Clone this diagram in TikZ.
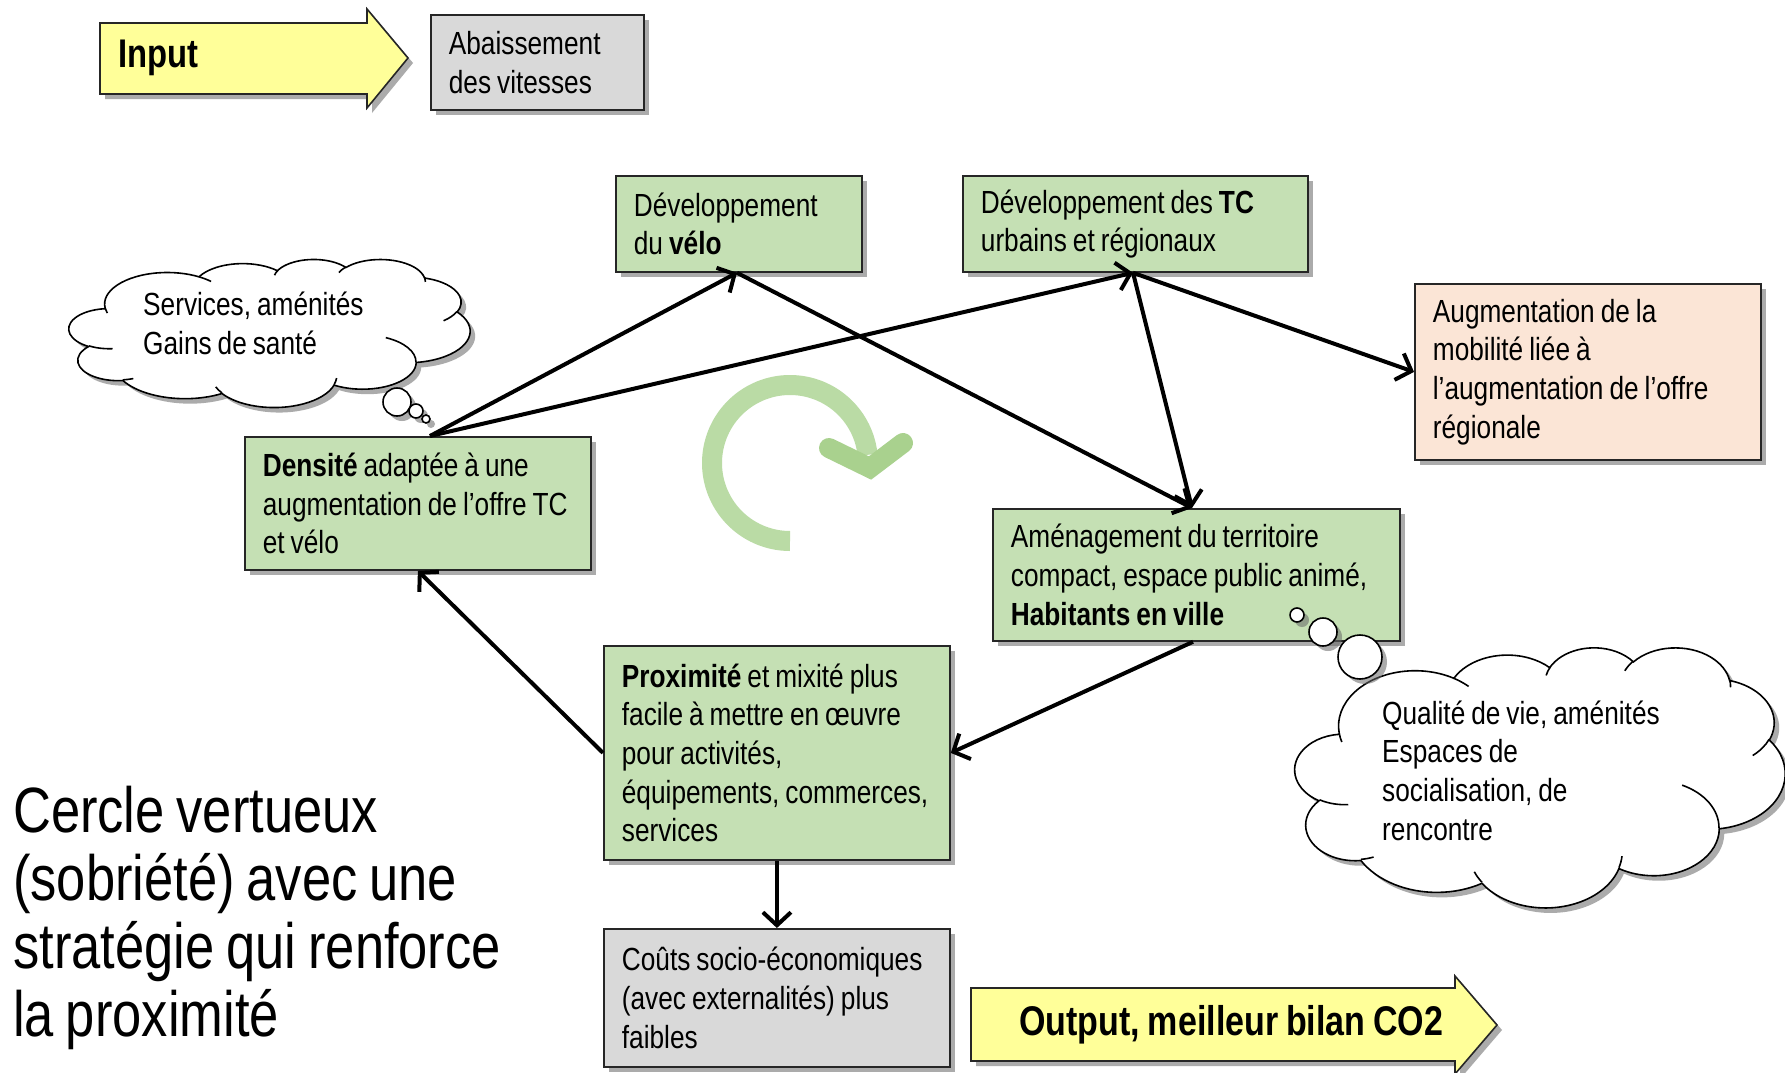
\documentclass[tikz,border=0pt]{standalone}
\usepackage{fontspec}
\setmainfont{Liberation Sans}[FakeStretch=0.82, WordSpace=0.82]
\usetikzlibrary{shadows,arrows.meta,calc}
\definecolor{boxgreen}{HTML}{C5E0B4}
\definecolor{boxpeach}{HTML}{FBE5D6}
\definecolor{boxgray}{HTML}{D9D9D9}
\definecolor{arrowyellow}{HTML}{FFFF99}
\definecolor{cyclegreen}{HTML}{BADBA5}
\definecolor{cycletip}{HTML}{A9D18E}
\newcommand\lne[1]{\mbox{#1}}
% PowerPoint-like cloud outline in a 432 x 432 frame
\newcommand\pptcloud{(39.00,143.70)
 arc[start angle=-187.746,end angle=-59.63,x radius=67.53,y radius=91.90]
 arc[start angle=-152.03,end angle=-45.46,x radius=53.33,y radius=72.67]
 arc[start angle=-153.50,end angle=-37.32,x radius=43.65,y radius=59.45]
 arc[start angle=-139.71,end angle=-10.21,x radius=48.57,y radius=65.95]
 arc[start angle=-74.77,end angle=23.21,x radius=53.33,y radius=72.73]
 arc[start angle=-37.53,end angle=81.86,x radius=67.75,y radius=92.20]
 arc[start angle=0.46,end angle=121.98,x radius=57.85,y radius=78.67]
 arc[start angle=16.84,end angle=146.22,x radius=67.52,y radius=92.15]
 arc[start angle=58.99,end angle=150.19,x radius=77.20,y radius=105.43]
 arc[start angle=83.31,end angle=223.11,x radius=43.60,y radius=59.18]
 arc[start angle=120.36,end angle=264.11,x radius=43.45,y radius=59.45]
 -- cycle}
\newcommand\pptcloudinner{
 (46.93,261.77) arc[start angle=85.54,end angle=120.36,x radius=43.45,y radius=59.45]
 (69.28,348.99) arc[start angle=68.24,end angle=83.31,x radius=43.60,y radius=59.18]
 (164.78,390.90) arc[start angle=146.22,end angle=158.48,x radius=67.52,y radius=92.15]
 (288.27,347.51) arc[start angle=4.735,end angle=16.84,x radius=67.52,y radius=92.15]
 (341.29,229.54) arc[start angle=-64.02,end angle=0.46,x radius=57.85,y radius=78.67]
 (417.98,153.54) arc[start angle=23.21,end angle=49.64,x radius=53.33,y radius=72.73]
 (383.24,54.26) arc[start angle=-10.21,end angle=0.82,x radius=48.57,y radius=65.95]
 (290.78,39.52) arc[start angle=-156.30,end angle=-139.71,x radius=48.57,y radius=65.95]
 (221.41,47.20) arc[start angle=-167.72,end angle=-153.50,x radius=43.65,y radius=59.45]
 (140.05,52.02) arc[start angle=-59.63,end angle=-45.75,x radius=67.53,y radius=91.90]
 (41.27,157.89) arc[start angle=163.19,end angle=172.25,x radius=67.53,y radius=91.90]}
\tikzset{
  shad/.style={drop shadow={shadow xshift=5pt,shadow yshift=-5pt,fill=black!60,opacity=0.55}},
  basebox/.style={draw=black!85, line width=1.8pt, anchor=north west, inner xsep=18pt, inner ysep=0pt,
     align=flush left, font=\fontsize{32}{38.6}\selectfont, shad},
  gbox/.style={basebox, fill=boxgreen},
  pbox/.style={basebox, fill=boxpeach},
  greybox/.style={basebox, fill=boxgray},
  cloudline/.style={draw=black, line width=1.6pt, fill=white},
  cloudshadow/.style={fill=black!60, opacity=0.55},
  inarc/.style={draw=black, line width=1.6pt},
  bubble/.style={circle, draw=black, line width=1.6pt, fill=white, inner sep=0pt, shad},
  conn/.style={line width=4pt, -{Straight Barb[length=13pt,width=28pt]}},
  bigarrow/.style={draw=black!85, line width=1.6pt, fill=arrowyellow, line join=miter, shad},
  cloudtext/.style={anchor=base west, align=left, inner sep=0pt, font=\fontsize{32}{38.6}\selectfont}
}
\begin{document}
\begin{tikzpicture}[x=1pt,y=-1pt]
\useasboundingbox (0,0) rectangle (1785,1073);
\fill[white] (0,0) rectangle (1785,1073);

% Input arrow
\draw[bigarrow] (100,23) -- (367,23) -- (367,9) -- (408,58) -- (367,108) -- (367,94) -- (100,94) -- cycle;
\node[anchor=west, inner sep=0pt, font=\fontsize{40}{44}\selectfont\bfseries] (input) at (118,58) {Input};

% Output arrow
\draw[bigarrow] (971,988) -- (1455,988) -- (1455,976) -- (1497,1025) -- (1455,1074) -- (1455,1061) -- (971,1061) -- cycle;
\node[anchor=west, inner sep=0pt, font=\fontsize{41.5}{45}\selectfont\bfseries] (output) at (1019,1025) {Output, meilleur bilan CO2};

% Abaissement
\node[greybox, minimum width=213pt, minimum height=95pt, text width=177pt] (abais) at (430,14)
  {\lne{Abaissement}\\\lne{des vitesses}};

% cycle arrow
\draw[cyclegreen, line width=20pt] plot[domain=270:6, samples=80, smooth] ({790+78*cos(\x)},{463-78*sin(\x)});
\draw[cycletip, line width=20pt, line cap=round, line join=miter] (829,448) -- (870,468) -- (903,443);

% cloud 1
\begin{scope}[shift={(74,264)}, xscale=0.92824, yscale=0.34259]
  \fill[cloudshadow] \pptcloud;
\end{scope}
\begin{scope}[shift={(69,259)}, xscale=0.92824, yscale=0.34259]
  \path[cloudline] \pptcloud;
  \path[inarc] \pptcloudinner;
\end{scope}
\node[bubble, minimum size=28pt] (bA1) at (397,402) {};
\node[bubble, minimum size=14pt] (bA2) at (416,411) {};
\node[bubble, minimum size=8pt] (bA3) at (426,419) {};
\node[cloudtext] (cloudAtxt) at (143,354) {Services, aménités\\Gains de santé};

% boxes
\node[gbox, minimum width=246pt, minimum height=96pt, text width=210pt] (velo) at (615,175)
  {\lne{Développement}\\\lne{du \textbf{vélo}}};
\node[gbox, minimum width=345pt, minimum height=96pt, text width=309pt] (tc) at (962,175)
  {\lne{Développement des \textbf{TC}}\\\lne{urbains et régionaux}};
\node[pbox, minimum width=346pt, minimum height=176pt, text width=310pt] (aug) at (1414,283)
  {\lne{Augmentation de la}\\\lne{mobilité liée à}\\\lne{l’augmentation de l’offre}\\\lne{régionale}};
\node[gbox, minimum width=346pt, minimum height=133pt, text width=310pt] (dens) at (244,436)
  {\lne{\textbf{Densité} adaptée à une}\\\lne{augmentation de l’offre TC}\\\lne{et vélo}};
\node[gbox, minimum width=407pt, minimum height=132pt, text width=371pt] (amen) at (992,508)
  {\lne{Aménagement du territoire}\\\lne{compact, espace public animé,}\\\lne{\textbf{Habitants en ville}}};
\node[gbox, minimum width=346pt, minimum height=214pt, text width=310pt] (prox) at (603,645)
  {\lne{\textbf{Proximité} et mixité plus}\\\lne{facile à mettre en œuvre}\\\lne{pour activités,}\\\lne{équipements, commerces,}\\\lne{services}};
\node[greybox, minimum width=346pt, minimum height=138pt, text width=310pt] (couts) at (603,928)
  {\lne{Coûts socio-économiques}\\\lne{(avec externalités) plus}\\\lne{faibles}};

% cloud 2
\begin{scope}[shift={(1300,652)}, xscale=1.13426, yscale=0.60185]
  \fill[cloudshadow] \pptcloud;
\end{scope}
\begin{scope}[shift={(1295,647)}, xscale=1.13426, yscale=0.60185]
  \path[cloudline] \pptcloud;
  \path[inarc] \pptcloudinner;
\end{scope}
\node[bubble, minimum size=14pt] (bB1) at (1297,615) {};
\node[bubble, minimum size=28pt] (bB2) at (1323,632) {};
\node[bubble, minimum size=44pt] (bB3) at (1360,657) {};
\node[cloudtext] (cloudBtxt) at (1382,840) {Qualité de vie, aménités\\Espaces de\\socialisation, de\\rencontre};

% big caption
\node[anchor=base west, align=left, inner sep=0pt, font=\fontsize{64}{68}\selectfont] (caption) at (13,1036)
  {Cercle vertueux\\(sobriété) avec une\\stratégie qui renforce\\la proximité};

% connectors
\coordinate (densTop) at ([xshift=186pt]dens.north west);
\coordinate (veloBot) at ([xshift=122pt]velo.south west);
\coordinate (tcBot) at ([xshift=171pt]tc.south west);
\coordinate (amenTop) at ([xshift=200pt]amen.north west);
\coordinate (amenBot) at ([xshift=201pt]amen.south west);
\draw[conn] (densTop) -- (veloBot);
\draw[conn] (densTop) -- (tcBot);
\draw[conn] (veloBot) -- (amenTop);
\draw[conn] (tcBot) -- (amenTop);
\draw[conn] (tcBot) -- (aug.west);
\draw[conn] (amenBot) -- (prox.east);
\draw[conn] (prox.west) -- (dens.south);
\draw[conn] (prox.south) -- (couts.north);
\end{tikzpicture}
\end{document}
